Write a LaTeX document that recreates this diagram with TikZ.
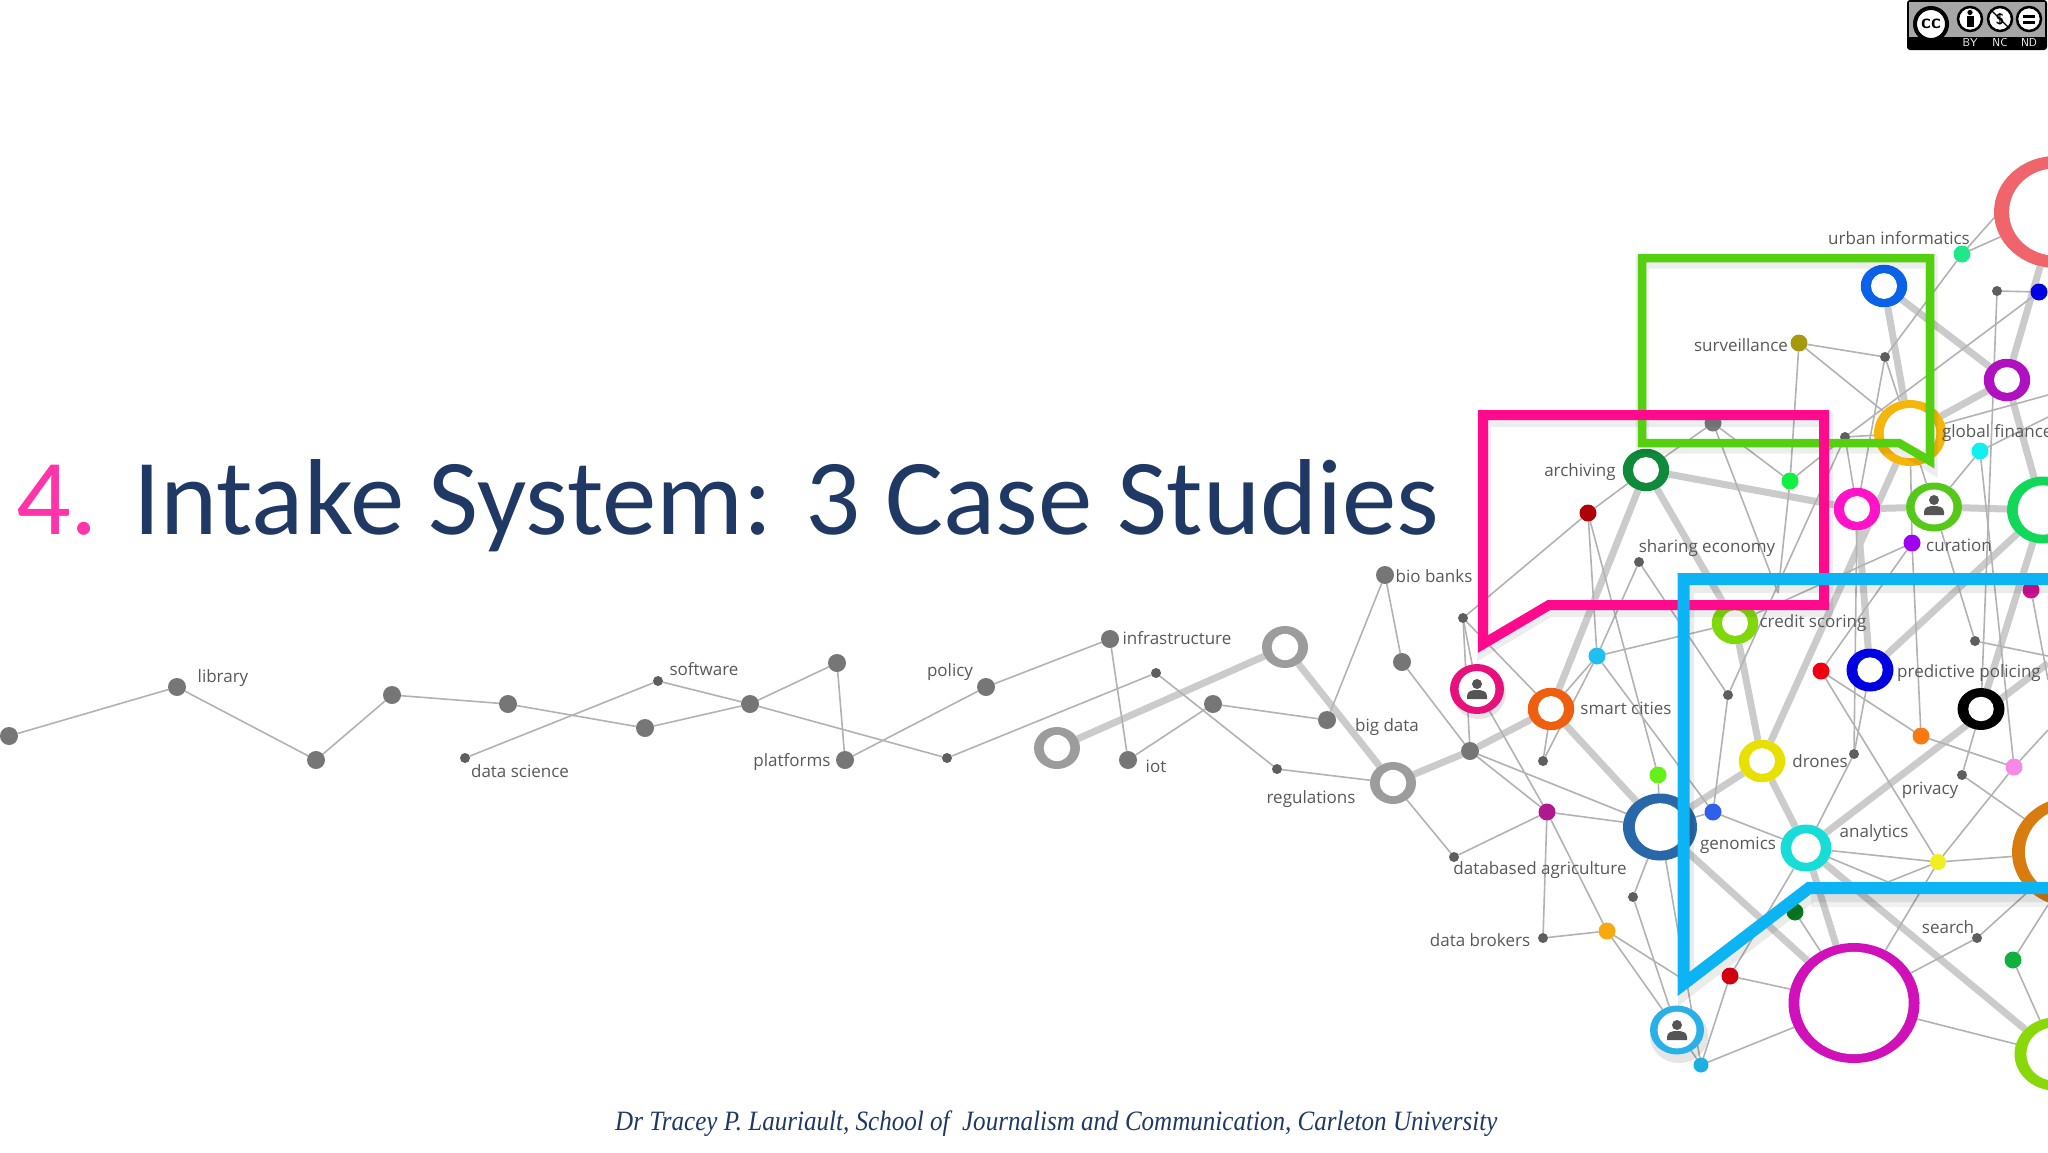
\documentclass[tikz,border=0pt]{standalone}
\usepackage{fontspec}
\usepackage{graphicx}
\usetikzlibrary{shapes.geometric,backgrounds}
\setmainfont{Open Sans}
\newfontfamily\titlefont{Carlito}
\newfontfamily\footfont{Liberation Serif}
\definecolor{navy}{HTML}{1F3864}
\definecolor{hotpink}{HTML}{FF33AA}
\definecolor{labelc}{HTML}{585858}
\definecolor{thinc}{HTML}{B2B2B2}
\definecolor{thickc}{HTML}{CBCBCB}
\definecolor{iconc}{HTML}{555555}
\tikzset{
  ringn/.style n args={4}{/utils/exec={\definecolor{tmpc}{HTML}{#4}},fill=tmpc,ellipse,inner sep=0pt,outer sep=0pt,minimum width={(#1+#3)*1pt},minimum height={(#2+#3)*1pt},
    path picture={\fill[white] (path picture bounding box.center) ellipse ({#1/2-.58*#3} and {#2/2-.38*#3});}},
  dotn/.style n args={2}{/utils/exec={\definecolor{tmpc}{HTML}{#2}},fill=tmpc,ellipse,inner sep=0pt,outer sep=0pt,minimum width=#1pt,minimum height=#1pt},
  bigdot/.style={dotn={18}{767676}},
  smalldot/.style={dotn={10}{5E5E5E}},
  lab/.style={text=labelc,font=\fontsize{17}{18}\selectfont,inner sep=0pt,outer sep=0pt,yshift=-1.3pt},
  thin edge/.style={draw=thinc,line width=1.6pt},
  thick edge/.style={draw=thickc,line width=7pt},
  frame/.style={line width=#1pt,line join=miter,miter limit=20},
  frame/.default=9,
}
\newcommand{\persona}[2]{%
  \begin{scope}[shift={(#1,#2)}]
    \fill[iconc] (0,-5) circle (5pt);
    \fill[iconc] (-10,10) -- (-10,7) .. controls (-10,2) and (-5,1) .. (0,1) .. controls (5,1) and (10,2) .. (10,7) -- (10,10) -- cycle;
  \end{scope}}
\begin{document}
\begin{tikzpicture}[x=1pt,y=-1pt]
\useasboundingbox (0,0) rectangle (2048,1152);
\begin{scope}
\clip (0,0) rectangle (2048,1152);
% ---- free ends (beyond the page or hidden under frames)
\coordinate (xmint) at (2048,157);
\coordinate (xamb) at (2048,395);
\coordinate (xcy) at (2048,417);
\coordinate (xan) at (2048,663);
\coordinate (xsm) at (2048,656);
\coordinate (xpk) at (2048,730);
\coordinate (xmg) at (2048,680);
\coordinate (xgd) at (2048,905);
\coordinate (hid) at (1778,593);
\coordinate (hidb) at (1888,882);
\coordinate (hidc) at (1692,985);
% ---- rings
\node[ringn={37}{33}{9}{9C9C9C}] (rA) at (1285,647) {};
\node[ringn={37}{33}{9}{9C9C9C}] (rB) at (1057,748) {};
\node[ringn={37}{33}{9}{9C9C9C}] (rC) at (1393,783) {};
\node[ringn={110}{98}{14}{F0646C}] (coral) at (2056,212) {};
\node[ringn={37}{33}{9.5}{0A62E8}] (blueR) at (1884,286) {};
\node[ringn={37}{33}{9.5}{B010C0}] (purR) at (2007,380) {};
\node[ringn={63}{57}{9}{F5B50A}] (amb) at (1910,433) {};
\node[ringn={37}{33}{9.5}{FF12C8}] (fuch) at (1857,509) {};
\node[ringn={48}{41}{8}{55C81A}] (gper) at (1934,507) {};
\node[ringn={62}{57}{10}{12D85A}] (bgr) at (2043,510) {};
\node[ringn={37}{33}{9.5}{0F8A3A}] (arch) at (1646,470) {};
\node[ringn={37}{33}{9.5}{7FD80A}] (cred) at (1735,623) {};
\node[ringn={37}{33}{10}{0000E0}] (pred) at (1870,670) {};
\node[ringn={37}{32}{10}{000000}] (blk) at (1981,709) {};
\node[ringn={37}{33}{9.5}{E8E000}] (dron) at (1762,761) {};
\node[ringn={37}{33}{9.5}{EE6010}] (orgR) at (1551,709) {};
\node[fill=black,opacity=.10,ellipse,minimum width=54pt,minimum height=52pt,inner sep=0pt] (pks) at (1479,693) {};
\node[ringn={46}{42}{8}{E8107A}] (pper) at (1477,689) {};
\node[ringn={63}{56}{11}{2868A8}] (dbl) at (1660,827) {};
\node[ringn={41}{37}{10}{18DCD8}] (teal) at (1806,848) {};
\node[ringn={121}{110}{10}{D010B8}] (bmag) at (1854,1003) {};
\node[ringn={70}{62}{11}{88D80A}] (blim) at (2055,1054) {};
\node[ringn={108}{98}{12}{D87C10}] (brn) at (2072,852) {};
\node[fill=black,opacity=.10,ellipse,minimum width=58pt,minimum height=54pt,inner sep=0pt] (lbs) at (1679,1036) {};
\node[ringn={47}{42}{7}{2AB0E8}] (lper) at (1677,1030) {};
% ---- dots
\node[bigdot] (g0) at (9,736) {};
\node[bigdot] (glib) at (177,687) {};
\node[bigdot] (g2) at (316,760) {};
\node[bigdot] (g3) at (392,695) {};
\node[bigdot] (g4) at (508,704) {};
\node[bigdot] (g5) at (645,728) {};
\node[smalldot] (sds) at (465,758) {};
\node[smalldot] (ssw) at (658,681) {};
\node[bigdot] (g6) at (750,704) {};
\node[bigdot] (g7) at (837,663) {};
\node[bigdot] (gpl) at (845,760) {};
\node[bigdot] (gpol) at (986,687) {};
\node[bigdot] (ginf) at (1110,639) {};
\node[bigdot] (giot) at (1128,760) {};
\node[bigdot] (g8) at (1213,704) {};
\node[bigdot] (gbd) at (1327,720) {};
\node[bigdot] (gbio) at (1385,575) {};
\node[bigdot] (g9) at (1402,662) {};
\node[bigdot] (g10) at (1470,751) {};
\node[smalldot] (s1) at (947,758) {};
\node[smalldot] (s2) at (1156,673) {};
\node[smalldot] (s3) at (1277,769) {};
\node[smalldot] (s4) at (1454,857) {};
\node[smalldot] (s5) at (1543,761) {};
\node[smalldot] (s6) at (1633,897) {};
\node[smalldot] (s7) at (1543,938) {};
\node[smalldot] (s8) at (1728,695) {};
\node[smalldot] (s9) at (1854,754) {};
\node[smalldot] (s10) at (1962,775) {};
\node[smalldot] (s11) at (1975,641) {};
\node[smalldot] (s12) at (1977,938) {};
\node[smalldot] (s13) at (1997,291) {};
\node[smalldot] (s14) at (1885,357) {};
\node[smalldot] (s15) at (1845,437) {};
\node[smalldot] (s16) at (1639,562) {};
\node[smalldot] (s17) at (1463,618) {};
\node[dotn={17}{7A7A7A}] (d0) at (1713,423) {};
\node[dotn={17}{1FBFF0}] (dsky) at (1597,656) {};
\node[dotn={17}{66F01A}] (dlim) at (1658,775) {};
\node[dotn={17}{B01890}] (dpur) at (1547,812) {};
\node[dotn={17}{3060E8}] (dblu) at (1713,812) {};
\node[dotn={17}{F8A810}] (dorg) at (1607,931) {};
\node[dotn={17}{D00010}] (dred) at (1730,976) {};
\node[dotn={17}{0A7A20}] (ddg) at (1795,912) {};
\node[dotn={15}{1BB0E0}] (dcy) at (1701,1065) {};
\node[dotn={17}{F00010}] (dr2) at (1821,671) {};
\node[dotn={17}{F87A10}] (do2) at (1921,736) {};
\node[dotn={17}{F888E8}] (dpk) at (2014,767) {};
\node[dotn={16}{F0F020}] (dyel) at (1938,862) {};
\node[dotn={17}{10B040}] (dgr) at (2013,960) {};
\node[dotn={17}{20E888}] (dmint) at (1962,254) {};
\node[dotn={17}{0000E0}] (dbd) at (2039,292) {};
\node[dotn={17}{A89810}] (dsur) at (1799,343) {};
\node[dotn={17}{10F040}] (dbg) at (1790,481) {};
\node[dotn={17}{10F0F0}] (dcyan) at (1980,451) {};
\node[dotn={17}{A000F0}] (dvio) at (1912,543) {};
\node[dotn={17}{B00008}] (ddr) at (1588,513) {};
\node[dotn={17}{D01090}] (dmag) at (2031,590) {};
% ---- connectors
\begin{scope}[on background layer]
\foreach \a/\b in {rB/rA,rA/rC,rC/g10,g10/orgR,orgR/dbl,orgR/arch,arch/cred,arch/fuch,fuch/gper,gper/bgr,amb/dron,cred/dron,fuch/pred,blueR/amb,blueR/purR,amb/purR,purR/coral,purR/bgr,bgr/pred,bgr/blk,teal/xan,dron/teal,dron/dbl,teal/bmag,teal/blim,dbl/bmag}
  \draw[thick edge] (\a) -- (\b);
\foreach \a/\b in {g0/glib,glib/g2,g2/g3,g3/g4,g4/g5,g5/g6,sds/ssw,ssw/g6,g6/s1,g6/g7,g7/gpl,gpl/gpol,gpol/ginf,ginf/giot,giot/g8,g8/gbd,s1/s2,s2/s3,s3/rC,gbio/gbd,gbio/g9,g9/g10,rC/s4,s4/dpur,
  dsur/s14,dsur/amb,dsur/dbg,s14/dmint,s14/amb,s14/fuch,dbd/s15,s13/dbd,s13/blk,dmint/coral,dmint/xmint,amb/s15,s15/dbg,s15/fuch,s15/s8,s16/s8,s8/dblu,s16/dsky,dsky/cred,dsky/orgR,dsky/dblu,dsky/s5,ddr/arch,ddr/s17,ddr/dsky,ddr/dlim,s17/pper,s17/orgR,s17/g10,pper/dpur,g10/dpur,g10/dbl,dpur/dbl,dpur/s7,dpur/dorg,s7/dorg,orgR/s5,dorg/lper,dorg/hidc,dlim/dbl,dbl/s6,s6/lper,dbl/dcy,dcy/lper,dcy/bmag,dcy/dred,dred/bmag,dred/teal,ddg/bmag,dblu/teal,dblu/dbl,teal/dyel,teal/hidb,dyel/hidb,dyel/brn,dyel/dpk,dyel/dr2,dyel/bmag,dr2/do2,do2/dpk,dpk/xpk,dvio/do2,teal/s9,s9/pred,s9/fuch,blk/s10,s10/brn,dcyan/dpk,gper/s11,s11/xsm,dcyan/gper,dvio/dr2,dvio/cred,amb/gper,amb/dvio,amb/xamb,dcyan/xcy,dbg/d0,d0/arch,d0/hid,dbg/hid,dmag/xmg,dgr/blim,dgr/xgd,s12/bmag,s12/brn,bmag/blim}
  \draw[thin edge] (\a) -- (\b);
\end{scope}
% ---- person icons
\persona{1477}{689}
\persona{1934}{505}
\persona{1677}{1030}
% ---- labels
\node[lab] (t1) at (223,677) {library};
\node[lab] (t2) at (520,770) {data science};
\node[lab] (t3) at (704,668) {software};
\node[lab] (t4) at (950,671) {policy};
\node[lab] (t5) at (792,761) {platforms};
\node[lab] (t6) at (1177,637) {infrastructure};
\node[lab] (t7) at (1156,765) {iot};
\node[lab] (t8) at (1311,798) {regulations};
\node[lab] (t9) at (1387,726) {big data};
\node[lab] (t10) at (1434,575) {bio banks};
\node[lab] (t11) at (1540,869) {databased agriculture};
\node[lab] (t12) at (1480,939) {data brokers};
\node[lab] (t13) at (1626,707) {smart cities};
\node[lab] (t14) at (1738,844) {genomics};
\node[lab] (t15) at (1820,760) {drones};
\node[lab] (t16) at (1813,622) {credit scoring};
\node[lab] (t17) at (1969,672) {predictive policing};
\node[lab] (t18) at (1930,789) {privacy};
\node[lab] (t19) at (1874,832) {analytics};
\node[lab] (t20) at (1948,926) {search};
\node[lab] (t21) at (1899,237) {urban informatics};
\node[lab] (t22) at (1741,344) {surveillance};
\node[lab] (t23) at (1580,471) {archiving};
\node[lab] (t24) at (1707,547) {sharing economy};
\node[lab,anchor=west] (t25) at (1942,432) {global finance};
\node[lab] (t26) at (1959,544) {curation};
% ---- frames: soft shadows
\begin{scope}[draw=black]
\draw[frame=13,opacity=.07] (1642,262) -- (1931,262) -- (1931,466) -- (1900,447) -- (1642,447) -- cycle;
\draw[frame=14,opacity=.07] (1484,420) -- (1826,420) -- (1826,610) -- (1549,610) -- (1484,649) -- cycle;
\draw[frame=16,opacity=.08] (2060,585) -- (1686,585) -- (1686,990) -- (1811,894) -- (2060,894);
\draw[frame=14,opacity=.06] (1811,900) -- (2060,900);
\end{scope}
% ---- frames
\draw[frame=8.5,draw={rgb,255:red,85;green,208;blue,16}] (1642,258) -- (1930,258) -- (1930,461) -- (1899,443) -- (1642,443) -- cycle;
\draw[frame=10,draw={rgb,255:red,255;green,10;blue,140}] (1483,415) -- (1824,415) -- (1824,605) -- (1549,605) -- (1483,644) -- cycle;
\draw[frame=12,draw={rgb,255:red,12;green,180;blue,244}] (2060,579) -- (1683.5,579) -- (1683.5,984) -- (1809,888) -- (2060,888);
\end{scope}
% ---- title
\node[anchor=base west,inner sep=0pt,text=hotpink] (num) at (16,534) {\titlefont\fontsize{108}{120}\selectfont 4.};
\node[anchor=base west,inner sep=0pt,text=navy] (title) at (133,534) {\scalebox{1.008}[1]{\titlefont\fontsize{108}{120}\selectfont Intake System: 3 Case Studies}};
\node[anchor=base west,inner sep=0pt,text=navy] (foot) at (615,1130) {\scalebox{0.895}[1]{\footfont\itshape\fontsize{28}{30}\selectfont Dr Tracey P. Lauriault, School of\ \ Journalism and Communication, Carleton University}};
% ---- licence badge
\fill[black,rounded corners=3pt] (1907,0) rectangle (2047,50);
\fill[black!35] (1909,2) rectangle (2045,37);
\node[draw=black,line width=4pt,fill=white,circle,inner sep=0pt,minimum size=32pt,font=\sffamily\bfseries\fontsize{20}{20}\selectfont] (cc) at (1931,24) {cc};
\node[draw=black,line width=2.5pt,fill=white,circle,inner sep=0pt,minimum size=24pt] (by) at (1970,19) {};
\fill[black] (1970,12.5) circle (2.6pt);
\fill[black] (1966.5,16) rectangle (1973.5,27);
\node[draw=black,line width=2.5pt,fill=white,circle,inner sep=0pt,minimum size=24pt,font=\sffamily\bfseries\fontsize{15}{15}\selectfont] (nc) at (2000,19) {\$};
\draw[line width=1.2pt] (nc.north west) -- (nc.south east);
\node[draw=black,line width=2.5pt,fill=white,circle,inner sep=0pt,minimum size=24pt] (nd) at (2029,19) {};
\fill[black] (2023,14.5) rectangle (2035,17.5);
\fill[black] (2023,20.5) rectangle (2035,23.5);
\node[text=white,font=\sffamily\fontsize{11.5}{12}\selectfont,inner sep=0pt] (tby) at (1970,43) {BY};
\node[text=white,font=\sffamily\fontsize{11.5}{12}\selectfont,inner sep=0pt] (tnc) at (2000,43) {NC};
\node[text=white,font=\sffamily\fontsize{11.5}{12}\selectfont,inner sep=0pt] (tnd) at (2029,43) {ND};
\end{tikzpicture}
\end{document}
